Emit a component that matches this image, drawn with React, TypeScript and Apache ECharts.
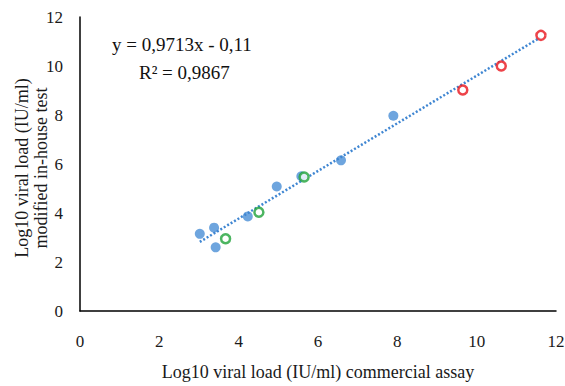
import React, { useEffect, useRef } from "react";
import * as echarts from "echarts";

const bluePoints: [number, number][] = [
  [3.02, 3.15], [3.38, 3.4], [3.42, 2.6], [4.23, 3.86], [4.96, 5.08],
  [5.58, 5.5], [6.58, 6.15], [7.9, 7.97],
];
const greenPoints: [number, number][] = [
  [3.67, 2.95], [4.51, 4.03], [5.65, 5.47],
];
const redPoints: [number, number][] = [
  [9.65, 9.02], [10.62, 10.0], [11.62, 11.25],
];
const trendLine: [number, number][] = [
  [3.02, 2.82], [11.6, 11.16],
];
const equationText = "y = 0,9713x - 0,11";
const r2Text = "R² = 0,9867";
const xTicks = [0, 2, 4, 6, 8, 10, 12];
const xName = "Log10 viral load (IU/ml) commercial assay";
const yName = "Log10 viral load (IU/ml)\nmodified in-house test";

const FONT = "Liberation Serif";

export default function App() {
  const ref = useRef<HTMLDivElement>(null);
  useEffect(() => {
    const chart = echarts.init(ref.current!, null, { renderer: "svg" });
    chart.setOption({
      animation: false,
      backgroundColor: "#fff",
      textStyle: { fontFamily: FONT },
      grid: { left: 80, right: 9, top: 17, bottom: 75, containLabel: false, outerBoundsMode: "none" },
      xAxis: {
        type: "value",
        min: xTicks[0],
        max: xTicks[xTicks.length - 1],
        interval: 2,
        name: xName,
        nameLocation: "middle",
        nameGap: 52,
        nameTextStyle: { fontFamily: FONT, fontSize: 18, color: "#1a1a1a" },
        axisLine: { show: true, lineStyle: { color: "#000", width: 1.5 } },
        axisTick: { show: false },
        splitLine: { show: false },
        axisLabel: { fontFamily: FONT, fontSize: 17, color: "#1a1a1a", margin: 22 },
      },
      yAxis: {
        type: "value",
        min: 0,
        max: 12,
        interval: 2,
        axisLine: { show: true, lineStyle: { color: "#000", width: 1.5 } },
        axisTick: { show: false },
        splitLine: { show: false },
        axisLabel: { fontFamily: FONT, fontSize: 17, color: "#1a1a1a", margin: 17 },
      },
      series: [
        {
          type: "scatter",
          data: bluePoints,
          symbolSize: 10,
          itemStyle: { color: "#4a8fd6" },
          z: 2,
        },
        {
          type: "line",
          data: trendLine,
          symbol: "none",
          lineStyle: { color: "#3f86d2", width: 2.5, type: [2, 2] },
          z: 3,
        },
        {
          type: "scatter",
          data: greenPoints,
          symbolSize: 9,
          itemStyle: { color: "#fff", borderColor: "#1fa33a", borderWidth: 2.5 },
          z: 4,
        },
        {
          type: "scatter",
          data: redPoints,
          symbolSize: 9,
          itemStyle: { color: "#fff", borderColor: "#e8141c", borderWidth: 2.5 },
          z: 4,
        },
      ],
      graphic: [
        {
          type: "text",
          left: 112,
          top: 35,
          style: { text: equationText, font: `19px '${FONT}'`, fill: "#111" },
        },
        {
          type: "text",
          left: 139,
          top: 63,
          style: { text: r2Text, font: `19px '${FONT}'`, fill: "#111" },
        },
        {
          type: "text",
          x: 31,
          y: 168,
          rotation: Math.PI / 2,
          style: {
            text: yName,
            font: `18px '${FONT}'`,
            fill: "#1a1a1a",
            align: "center",
            verticalAlign: "middle",
            lineHeight: 19,
          },
        },
      ],
    });
    return () => chart.dispose();
  }, []);
  return <div ref={ref} style={{ width: 565, height: 386, position: "absolute", left: 0, top: 0 }} />;
}
